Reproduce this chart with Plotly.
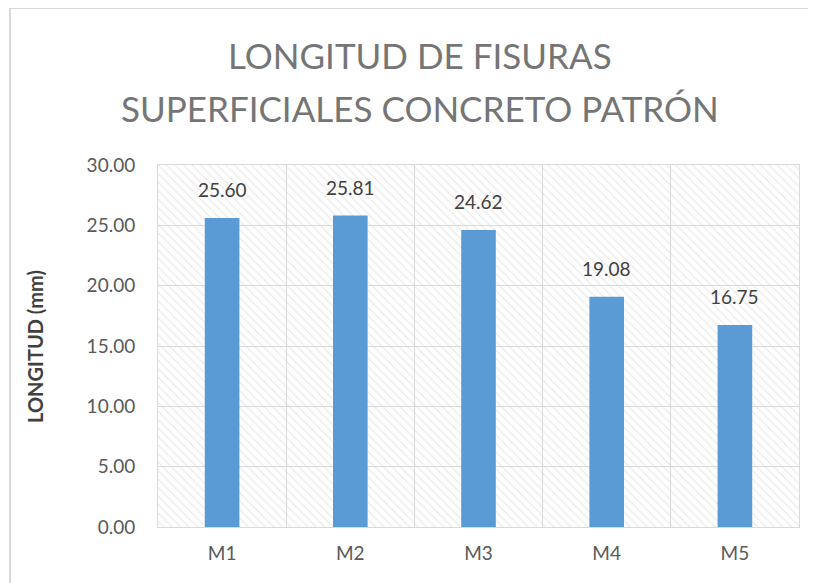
import plotly.graph_objects as go

categories = ["M1", "M2", "M3", "M4", "M5"]
values = [25.60, 25.81, 24.62, 19.08, 16.75]
y_ticks = [0, 5, 10, 15, 20, 25, 30]
y_tick_labels = ["0.00", "5.00", "10.00", "15.00", "20.00", "25.00", "30.00"]
title_lines = ["LONGITUD DE FISURAS", "SUPERFICIALES CONCRETO PATRÓN"]
y_title = "LONGITUD (mm)"

FONT = "Lato"
GRID = "#D9D9D9"

W, H = 816, 583
OFF = 8  # page body margin
L, R, T, B = 150, 25, 157, 64
PW = W - L - R
PH = H - T - B

def px_x(px):
    return (px - OFF - L) / PW

def px_y(py):
    return (H - B - (py - OFF)) / PH

fig = go.Figure()

# hatched background over the plot area
fig.add_trace(go.Bar(
    x=[len(categories) / 2], y=[max(y_ticks)], width=[len(categories)],
    xaxis="x", yaxis="y",
    marker=dict(color="rgba(0,0,0,0)", line=dict(width=0),
                pattern=dict(shape="\\", fgcolor="#D6D6D6", bgcolor="rgba(0,0,0,0)",
                             size=6, solidity=0.2, fillmode="overlay")),
    hoverinfo="skip", showlegend=False,
))

fig.add_trace(go.Bar(
    x=categories, y=values, xaxis="x2", yaxis="y",
    marker=dict(color="#5B9BD5", line=dict(width=0)),
    showlegend=False,
))

annotations = []
for c, v in zip(categories, values):
    annotations.append(dict(x=c, y=v, xref="x2", yref="y", text=f"{v:.2f}",
                            showarrow=False, yanchor="bottom", yshift=15,
                            font=dict(family=FONT, size=19, color="#404040")))
annotations.append(dict(x=px_x(420), y=px_y(55), xref="paper", yref="paper",
                        text=title_lines[0], showarrow=False, xanchor="center", yanchor="middle",
                        font=dict(family=FONT, size=35, color="#757575")))
annotations.append(dict(x=px_x(420), y=px_y(108), xref="paper", yref="paper",
                        text=title_lines[1], showarrow=False, xanchor="center", yanchor="middle",
                        font=dict(family=FONT, size=35, color="#757575")))
annotations.append(dict(x=px_x(35), y=px_y(346), xref="paper", yref="paper",
                        text=f"<b>{y_title}</b>", showarrow=False, textangle=-90,
                        xanchor="center", yanchor="middle",
                        font=dict(family=FONT, size=20, color="#404040")))

fig.update_layout(
    width=W, height=H,
    margin=dict(l=L, r=R, t=T, b=B, autoexpand=False),
    paper_bgcolor="white", plot_bgcolor="white",
    bargap=0.73,
    xaxis=dict(range=[0, len(categories)], dtick=1, tick0=0, showgrid=True,
               gridcolor=GRID, gridwidth=1, showticklabels=False, ticks="",
               zeroline=False, showline=True, linecolor=GRID, mirror=True,
               automargin=False),
    xaxis2=dict(overlaying="x", type="category", side="bottom",
                showgrid=False, ticks="", showline=False, zeroline=False,
                automargin=False, ticklabelstandoff=13,
                tickfont=dict(family=FONT, size=19, color="#595959")),
    yaxis=dict(range=[0, 30], tickvals=y_ticks, ticktext=y_tick_labels,
               showgrid=True, gridcolor=GRID, gridwidth=1, zeroline=False,
               showline=True, linecolor=GRID, mirror=True, ticks="",
               ticklabelstandoff=18, automargin=False,
               tickfont=dict(family=FONT, size=19, color="#595959")),
    annotations=annotations,
    shapes=[dict(type="rect", xref="paper", yref="paper",
                 x0=px_x(10), x1=px_x(840), y0=px_y(620), y1=px_y(8),
                 line=dict(color=GRID, width=2), fillcolor="rgba(0,0,0,0)", layer="below")],
)

fig.write_html("out.html")
